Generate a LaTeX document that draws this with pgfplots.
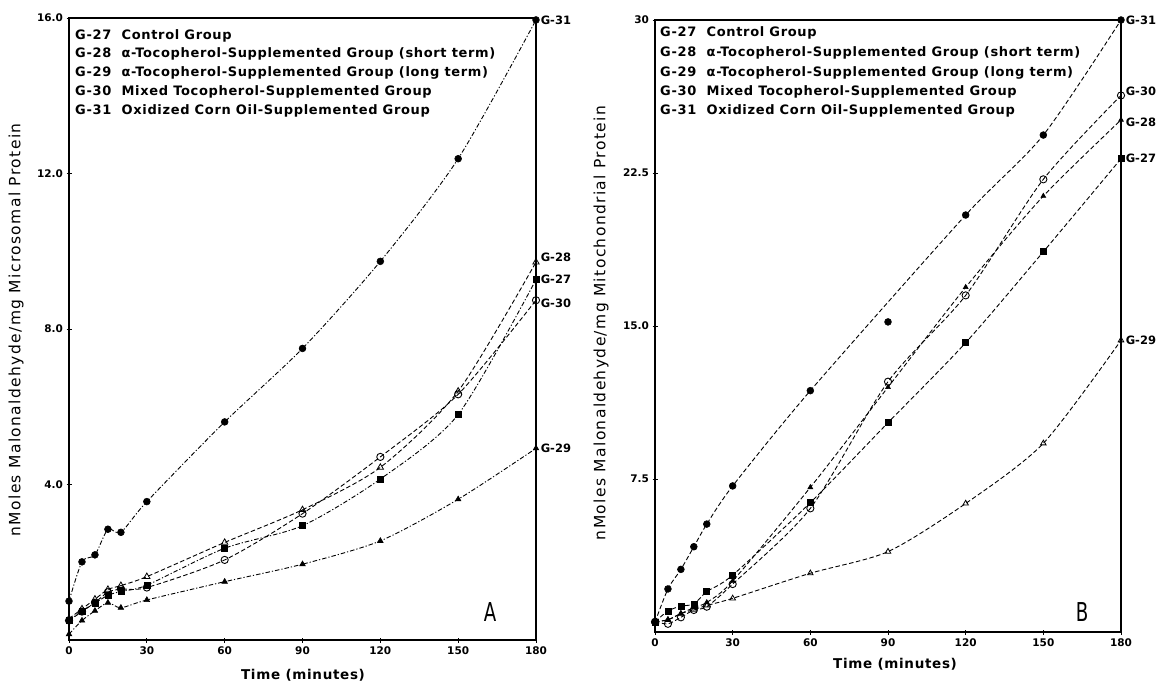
\documentclass[border=0pt]{standalone}
\usepackage{fontspec}
\setmainfont{DejaVu Sans}
\newfontfamily\lgf[LetterSpace=5]{DejaVu Sans}
\newfontfamily\axf[LetterSpace=9]{DejaVu Sans}
\usepackage{pgfplots}
\pgfplotsset{compat=1.18}

\pgfplotstableread{
t    g27   g28   g29   g30   g31
0    0.50  0.55  0.15  0.50  1.00
5    0.75  0.80  0.50  0.73  2.01
10   0.95  1.05  0.75  0.96  2.19
15   1.15  1.30  0.96  1.23  2.85
20   1.25  1.40  0.83  1.31  2.77
30   1.41  1.63  1.03  1.35  3.56
60   2.36  2.51  1.50  2.06  5.61
90   2.94  3.35  1.95  3.25  7.50
120  4.14  4.44  2.55  4.71  9.74
150  5.80  6.40  3.62  6.32  12.38
180  9.27  9.72  4.93  8.74  15.95
}\dataA

\pgfplotstableread{
t    g27   g28   g29   g30   g31
0    0.50  0.50  0.50  0.50  0.48
5    1.03  0.60  0.60  0.40  2.11
10   1.27  0.90  0.90  0.72  3.07
15   1.37  1.20  1.10  1.08  4.18
20   1.98  1.45  1.30  1.24  5.29
30   2.79  2.50  1.65  2.35  7.16
60   6.34  7.09  2.88  6.06  11.83
90   10.26 12.00 3.94  12.27 15.20
120  14.18 16.90 6.30  16.50 20.44
150  18.64 21.37 9.25  22.19 24.36
180  23.20 25.10 14.30 26.30 30.00
}\dataB

\pgfplotstableread{
t    g31
0    0.48
5    2.11
10   3.07
15   4.18
20   5.29
30   7.16
60   11.83
120  20.44
150  24.36
180  30.00
}\dataBline

\newcommand{\lgfont}{\lgf\fontsize{13}{15}\selectfont\bfseries}
\newcommand{\tkfont}{\fontsize{10.5}{12}\selectfont\bfseries}
\newcommand{\gfont}{\fontsize{11.5}{13}\selectfont\bfseries}

\pgfplotsset{
  panel/.style={
    scale only axis, clip=false,
    xmin=0, xmax=180, xtick={0,30,60,90,120,150,180},
    axis line style={line width=1.1pt},
    xtick pos=bottom, ytick pos=left,
    tick align=center, major tick length=5pt,
    tick style={black, line width=0.9pt},
    ticklabel style={font=\tkfont},
    /pgf/number format/assume math mode=true,
    xticklabel style={yshift=-1pt},
  },
  ds/.style={black, line width=0.9pt, dash pattern=on 4.5pt off 2.5pt, smooth, tension=0.45},
  dd/.style={black, line width=0.9pt, dash pattern=on 4.5pt off 2pt on 1.2pt off 2pt, smooth, tension=0.45},
  fc/.style={mark=*, mark size=3.4pt, mark options={solid, fill=black, line width=0.6pt}},
  oc/.style={mark=o, mark size=3.6pt, mark options={solid, fill=white, line width=0.9pt}},
  fs/.style={mark=square*, mark size=3pt, mark options={solid, fill=black, line width=0.6pt}},
  ot/.style={mark=triangle, mark size=3.6pt, mark options={solid, fill=white, line width=0.8pt}},
  ft/.style={mark=triangle*, mark size=3.2pt, mark options={solid, fill=black, line width=0.6pt}},
}

\begin{document}
\begin{tikzpicture}
\path[use as bounding box] (0pt,0pt) rectangle (1172pt,683pt);

% ---------------- Panel A ----------------
\begin{axis}[panel, at={(69pt,43pt)}, anchor=south west, width=467pt, height=622pt,
  ymin=0, ymax=16, ytick={4,8,12,16}, yticklabels={4.0,8.0,12.0,16.0}]
\addplot[dd, fc] table[x=t,y=g31] {\dataA};
\addplot[dd, fs] table[x=t,y=g27] {\dataA};
\addplot[ds, ot] table[x=t,y=g28] {\dataA};
\addplot[dd, ft] table[x=t,y=g29] {\dataA};
\addplot[ds, oc] table[x=t,y=g30] {\dataA};
\node[anchor=west, font=\gfont, inner sep=2pt] at (axis cs:181,15.95) {G-31};
\node[anchor=west, font=\gfont, inner sep=2pt] at (axis cs:181,9.85) {G-28};
\node[anchor=west, font=\gfont, inner sep=2pt] at (axis cs:181,9.27) {G-27};
\node[anchor=west, font=\gfont, inner sep=2pt] at (axis cs:181,8.65) {G-30};
\node[anchor=west, font=\gfont, inner sep=2pt] at (axis cs:181,4.93) {G-29};
\end{axis}

% ---------------- Panel B ----------------
\begin{axis}[panel, at={(655pt,51pt)}, anchor=south west, width=466pt, height=612pt,
  ymin=0, ymax=30, ytick={7.5,15,22.5,30}, yticklabels={7.5,15.0,22.5,30}]
\addplot[ds] table[x=t,y=g31] {\dataBline};
\addplot[only marks, fc] table[x=t,y=g31] {\dataB};
\addplot[ds, fs] table[x=t,y=g27] {\dataB};
\addplot[ds, ft, mark size=2.8pt] table[x=t,y=g28] {\dataB};
\addplot[ds, ot, mark size=3.2pt] table[x=t,y=g29] {\dataB};
\addplot[ds, oc] table[x=t,y=g30] {\dataB};
\node[anchor=west, font=\gfont, inner sep=2pt] at (axis cs:181,30.0) {G-31};
\node[anchor=west, font=\gfont, inner sep=2pt] at (axis cs:181,26.5) {G-30};
\node[anchor=west, font=\gfont, inner sep=2pt] at (axis cs:181,25.0) {G-28};
\node[anchor=west, font=\gfont, inner sep=2pt] at (axis cs:181,23.2) {G-27};
\node[anchor=west, font=\gfont, inner sep=2pt] at (axis cs:181,14.3) {G-29};
\end{axis}

% legends (text only)
\foreach \yy/\txt in {643/{G-27\ \ Control Group},
                     625/{G-28\ \ α-Tocopherol-Supplemented Group (short term)},
                     606/{G-29\ \ α-Tocopherol-Supplemented Group (long term)},
                     587/{G-30\ \ Mixed Tocopherol-Supplemented Group},
                     568/{G-31\ \ Oxidized Corn Oil-Supplemented Group}}
  {\node[anchor=base west, font=\lgfont, inner sep=0pt] at (75pt,\yy pt) {\txt};}
\foreach \yy/\txt in {646/{G-27\ \ Control Group},
                     626/{G-28\ \ α-Tocopherol-Supplemented Group (short term)},
                     606/{G-29\ \ α-Tocopherol-Supplemented Group (long term)},
                     587/{G-30\ \ Mixed Tocopherol-Supplemented Group},
                     568/{G-31\ \ Oxidized Corn Oil-Supplemented Group}}
  {\node[anchor=base west, font=\lgfont, inner sep=0pt] at (660pt,\yy pt) {\txt};}

% axis labels
\node[font=\lgf\fontsize{13.5}{15}\selectfont\bfseries] at (303pt,8pt) {Time (minutes)};
\node[font=\lgf\fontsize{13.5}{15}\selectfont\bfseries] at (895pt,19pt) {Time (minutes)};
\node[rotate=90, font=\axf\fontsize{15.5}{17}\selectfont] at (16pt,353pt) {nMoles Malonaldehyde/mg Microsomal Protein};
\node[rotate=90, font=\axf\fontsize{15.5}{17}\selectfont] at (601pt,360pt) {nMoles Malonaldehyde/mg Mitochondrial Protein};

% panel letters
\node[font=\fontsize{26}{28}\selectfont] at (490pt,71pt) {\scalebox{0.7}[1]{A}};
\node[font=\fontsize{26}{28}\selectfont] at (1082pt,71pt) {\scalebox{0.7}[1]{B}};
\end{tikzpicture}
\end{document}
